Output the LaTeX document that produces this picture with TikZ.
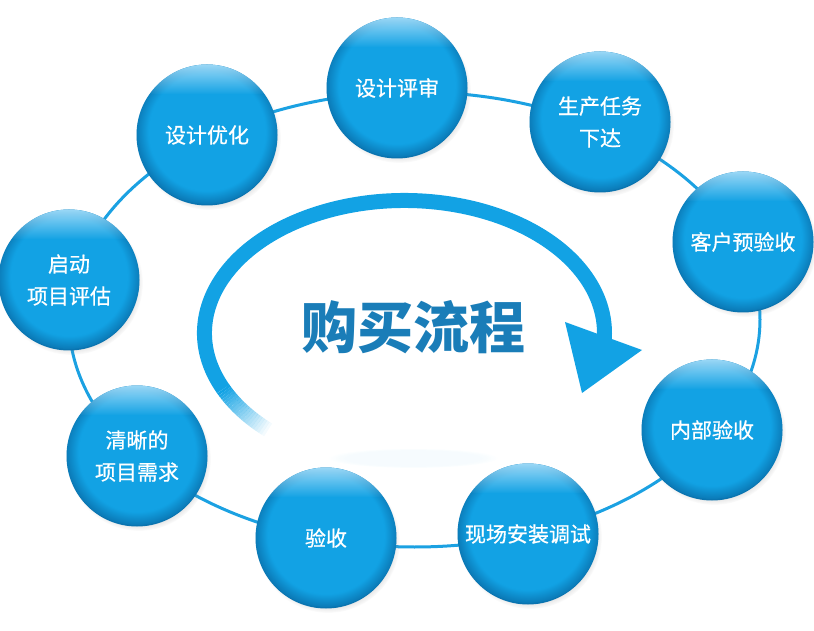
\documentclass[tikz,border=0pt]{standalone}
\usepackage{fontspec}
\newfontfamily\cjk{Noto Sans CJK SC}
\newfontfamily\cjkstage[FakeBold=0.6]{Noto Sans CJK SC}
\usepackage{tikz}
\usetikzlibrary{shadows}
\usetikzlibrary{fadings}

\definecolor{ballblue}{HTML}{12A2E4}
\definecolor{balldark}{HTML}{0A74B0}
\definecolor{balllight}{HTML}{9AD8F7}
\definecolor{ringblue}{HTML}{1BA1E2}
\definecolor{titleblue}{HTML}{1A7DB8}

\tikzset{
  stage/.style={circle, minimum size=141pt, inner sep=0pt, align=center,
    text=white, font=\cjkstage\fontsize{21}{32}\selectfont, fill=balldark,
    circular drop shadow={shadow xshift=2pt, shadow yshift=-3pt, shadow scale=1.02, opacity=0.35},
    path picture={
      \fill[ballblue, path fading=circle with fuzzy edge 20 percent] ([yshift=4pt]path picture bounding box.center) circle (73pt);
      \fill[balllight, path fading=south] (path picture bounding box.north west) rectangle ([yshift=-30pt]path picture bounding box.north east);
    }},
  ring/.style={draw=ringblue, line width=3pt},
  flow/.style={draw=ballblue, line width=15pt, line cap=butt},
}

\begin{document}
\begin{tikzpicture}[line join=round,x=1pt,y=1pt]
\useasboundingbox (0,0) rectangle (814,630);
% ring behind the stages
\draw[ring] (414.5,310.5) ellipse [x radius=345.5, y radius=227.5];
% inner loop arrow
\coordinate (loop) at (404.5,297);
\fill[ballblue, opacity=0.04, path fading=circle with fuzzy edge 20 percent] (413,172) ellipse [x radius=85, y radius=10];
\draw[flow] (loop) ++(205:200 and 132.5) arc [start angle=205, end angle=-4, x radius=200, y radius=132.5];
\foreach \i [evaluate=\i as \a using 205+\i, evaluate=\i as \o using 1-\i/22] in {0,...,22}
  \draw[flow, opacity=\o] (loop) ++(\a:200 and 132.5) arc [start angle=\a, end angle=\a+1, x radius=200, y radius=132.5];
\fill[ballblue] (565,308) -- (642,280) -- (582,237) -- cycle;
\node[text=titleblue, font=\cjk\bfseries\fontsize{56}{60}\selectfont] (title) at (413,303) {购买流程};
% stages
\node[stage] (review) at (397,542) {设计评审};
\node[stage] (task) at (600,508) {生产任务\\下达};
\node[stage] (precheck) at (743,388) {客户预验收};
\node[stage] (inspect) at (712,200) {内部验收};
\node[stage] (install) at (528,96) {现场安装调试};
\node[stage] (accept) at (326,92) {验收};
\node[stage] (demand) at (137,174) {清晰的\\项目需求};
\node[stage] (kickoff) at (69,350) {启动\\项目评估};
\node[stage] (optimize) at (207,495) {设计优化};
\end{tikzpicture}
\end{document}
